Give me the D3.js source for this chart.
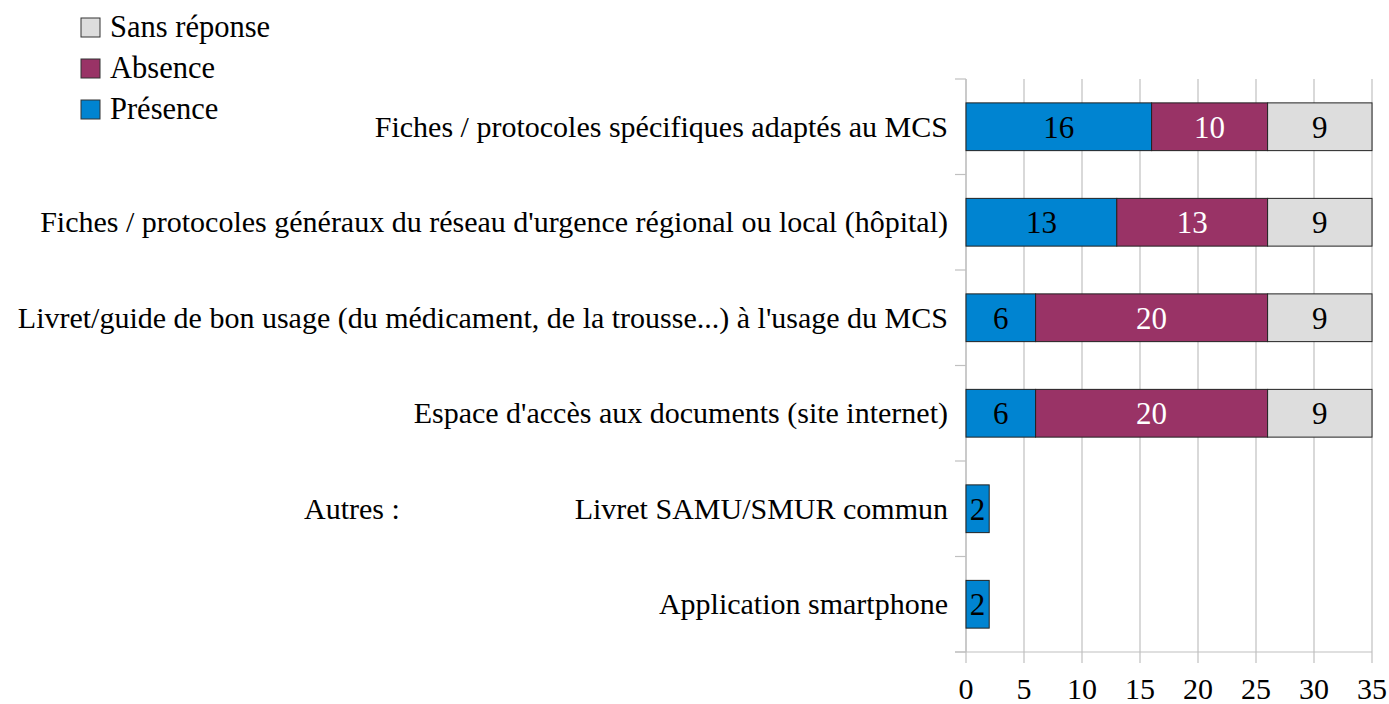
<!DOCTYPE html>
<html><head><meta charset="utf-8"><script src="https://cdn.jsdelivr.net/npm/d3@7"></script></head>
<body style="margin:0">
<script>
// categories top to bottom
var categories = [
    "Fiches / protocoles spécifiques adaptés au MCS",
    "Fiches / protocoles généraux du réseau d'urgence régional ou local (hôpital)",
    "Livret/guide de bon usage (du médicament, de la trousse...) à l'usage du MCS",
    "Espace d'accès aux documents (site internet)",
    "Livret SAMU/SMUR commun",
    "Application smartphone"
];
var seriesNames = ["Présence", "Absence", "Sans réponse"];
var presence = [16, 13, 6, 6, 2, 2];
var absence = [10, 13, 20, 20, 0, 0];
var sansReponse = [9, 9, 9, 9, 0, 0];
var xTicks = [0, 5, 10, 15, 20, 25, 30, 35];

var w = 1389, h = 704;
var colors = ["#0084d1", "#993366", "#dddddd"];
var textColors = ["#000", "#fff", "#000"];
var fontFam = "'Liberation Serif'";

var svg = d3.select("body").append("svg")
    .attr("width", w)
    .attr("height", h);

var x = d3.scaleLinear().domain([0, 35]).range([966, 1372]);
var y = d3.scaleBand().domain(categories).range([79, 652]).paddingInner(0.5).paddingOuter(0.25);

// grid lines
svg.selectAll(".grid")
    .data(xTicks)
    .enter()
    .append("line")
    .attr("x1", function (d) { return x(d); })
    .attr("x2", function (d) { return x(d); })
    .attr("y1", 79)
    .attr("y2", 663)
    .style("stroke", "#c0c0c0")
    .style("stroke-width", 1.2);

// bottom axis line
svg.append("line")
    .attr("x1", 955).attr("x2", x(35))
    .attr("y1", 652).attr("y2", 652)
    .style("stroke", "#c0c0c0").style("stroke-width", 1.2);

// left axis line + ticks at band boundaries
svg.append("line")
    .attr("x1", x(0)).attr("x2", x(0))
    .attr("y1", 79).attr("y2", 652)
    .style("stroke", "#c0c0c0").style("stroke-width", 1.2);

var bounds = d3.range(categories.length + 1).map(function (i) { return 79 + i * (573 / categories.length); });
svg.selectAll(".ytick")
    .data(bounds)
    .enter()
    .append("line")
    .attr("x1", 955).attr("x2", x(0))
    .attr("y1", function (d) { return d; })
    .attr("y2", function (d) { return d; })
    .style("stroke", "#c0c0c0").style("stroke-width", 1.2);

// x tick labels
svg.selectAll(".xlabel")
    .data(xTicks)
    .enter()
    .append("text")
    .attr("x", function (d) { return x(d); })
    .attr("y", 699)
    .attr("text-anchor", "middle")
    .style("font-family", fontFam)
    .style("font-size", "30px")
    .text(function (d) { return d; });

// stacked data
var rows = categories.map(function (c, i) {
    return { cat: c, vals: [presence[i], absence[i], sansReponse[i]] };
});
var stackData = [];
rows.forEach(function (r) {
    var x0 = 0;
    r.vals.forEach(function (v, k) {
        if (v > 0) stackData.push({ cat: r.cat, k: k, x0: x0, x1: x0 + v, v: v });
        x0 += v;
    });
});

svg.selectAll(".bar")
    .data(stackData)
    .enter()
    .append("rect")
    .attr("x", function (d) { return x(d.x0); })
    .attr("width", function (d) { return x(d.x1) - x(d.x0); })
    .attr("y", function (d) { return y(d.cat); })
    .attr("height", y.bandwidth())
    .style("fill", function (d) { return colors[d.k]; })
    .style("stroke", "#222")
    .style("stroke-width", 1);

svg.selectAll(".val")
    .data(stackData)
    .enter()
    .append("text")
    .attr("x", function (d) { return (x(d.x0) + x(d.x1)) / 2; })
    .attr("y", function (d) { return y(d.cat) + y.bandwidth() / 2 + 11; })
    .attr("text-anchor", "middle")
    .style("font-family", fontFam)
    .style("font-size", "31px")
    .style("fill", function (d) { return textColors[d.k]; })
    .text(function (d) { return d.v; });

// category labels
svg.selectAll(".cat")
    .data(categories)
    .enter()
    .append("text")
    .attr("x", 948)
    .attr("y", function (d) { return y(d) + y.bandwidth() / 2 + 10; })
    .attr("text-anchor", "end")
    .style("font-family", fontFam)
    .style("font-size", "30px")
    .text(function (d) { return d; });

svg.append("text")
    .attr("x", 304)
    .attr("y", y(categories[4]) + y.bandwidth() / 2 + 10)
    .style("font-family", fontFam)
    .style("font-size", "30px")
    .text("Autres :");

// legend (reverse order)
var legend = [2, 1, 0];
legend.forEach(function (k, i) {
    var cy = 27 + i * 41;
    svg.append("rect")
        .attr("x", 81).attr("y", cy - 9)
        .attr("width", 19).attr("height", 19)
        .style("fill", colors[k])
        .style("stroke", "#333").style("stroke-width", 1);
    svg.append("text")
        .attr("x", 110).attr("y", cy + 10)
        .style("font-family", fontFam)
        .style("font-size", "30.5px")
        .text(seriesNames[k]);
});
</script>
</body></html>
